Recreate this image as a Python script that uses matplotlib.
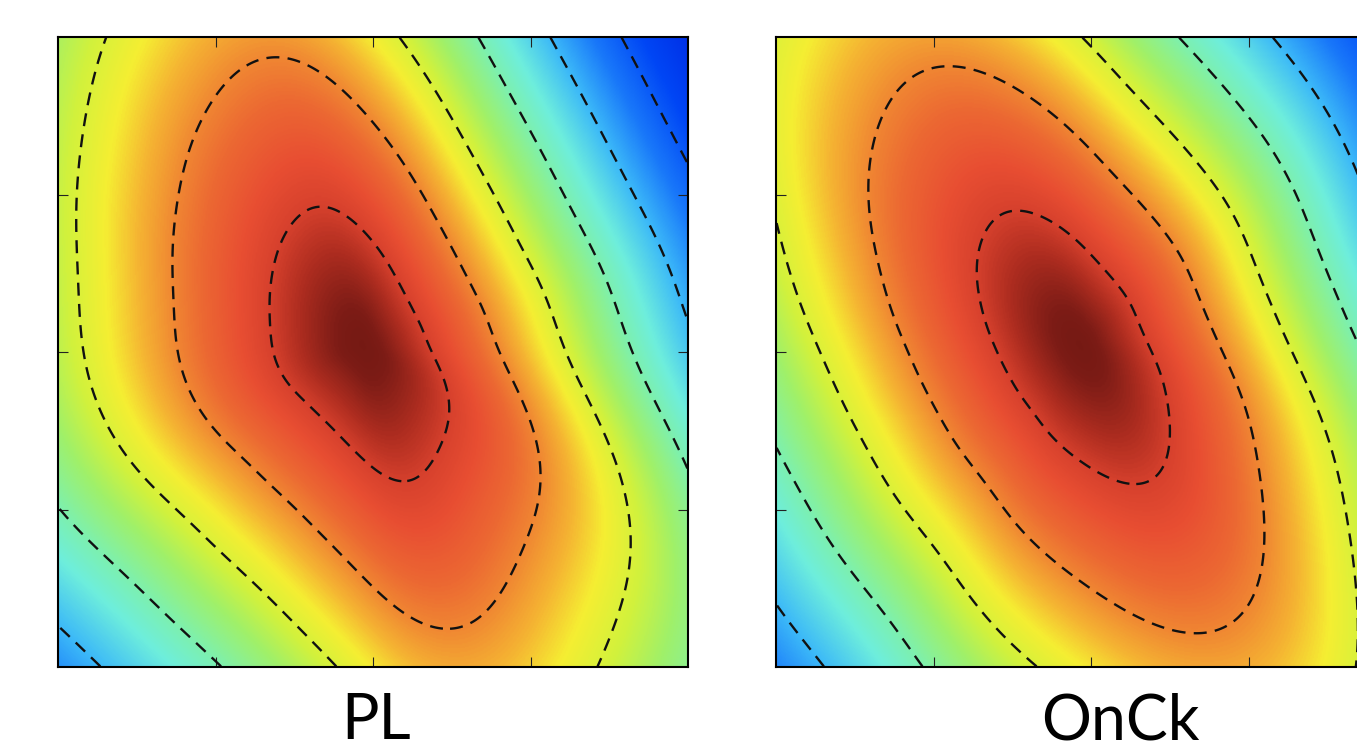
import numpy as np
import matplotlib
matplotlib.use("Agg")
import matplotlib.pyplot as plt
from matplotlib.colors import LinearSegmentedColormap

# ---------------- data ----------------
panel_labels = ["PL", "OnCk"]

# peak position of each field (axes fraction, x right / y up)
pl_center = (0.484, 0.511)
onck_center = (0.4825, 0.511)

# distance (panel pixels) between successive contour levels, per direction (deg, CCW from +x)
pl_angles = [0, 30, 45, 61, 75, 93.6, 105.6, 116, 126, 141.6, 166, 180, 197, 225, 249, 270, 287, 306, 321, 332, 340, 350]
pl_spacing = [65, 61, 64, 72, 87, 122, 166, 152, 140, 117, 96, 94, 90, 81, 87, 110, 166, 130, 118, 98, 84, 71]

onck_angles = [0, 10, 22, 36, 55, 65, 82.8, 102.7, 118.3, 138.7, 157, 180, 193.6, 206, 237, 263, 275, 295.4, 303.3, 311, 324, 335, 345.4]
onck_spacing = [68, 65, 63, 66, 71, 75, 88, 128, 172, 142, 108, 86, 81, 78, 82, 108, 124, 170, 166, 140, 108, 94, 80]

contour_levels = [1, 2, 3, 4, 5, 6, 7]

# colour scale: level value -> colour
cmap_levels = [0.0, 0.35, 0.7, 1.0, 1.3, 1.7, 2.0, 2.35, 2.7, 3.1, 3.5, 4.0, 4.4, 5.0, 5.6, 6.3, 7.2]
cmap_colors = ["#69160f", "#7d1c16", "#af2d20", "#d7412d", "#e84e32", "#ec6932", "#f08732",
               "#f5b432", "#f5ee32", "#d2f23c", "#a0f069", "#7df0af", "#6eeedc", "#3cb9f8",
               "#1978fa", "#0046f5", "#0028e1"]

tick_positions = [0.25, 0.5, 0.75]

# ---------------- figure ----------------
W, H = 1357, 749
fig = plt.figure(figsize=(W / 100, H / 100), dpi=100)

vmax = cmap_levels[-1]
cmap = LinearSegmentedColormap.from_list(
    "field", [(lv / vmax, c) for lv, c in zip(cmap_levels, cmap_colors)])

PANEL_PX = 630.0
n = 500
g = (np.arange(n) + 0.5) / n
X, Y = np.meshgrid(g, g)


def smooth_periodic(angles, spacing, sigma):
    a = np.array(angles, float)
    s = np.array(spacing, float)
    fine = np.arange(0, 360, 0.5)
    ext_a = np.concatenate([a - 360, a, a + 360])
    ext_s = np.concatenate([s, s, s])
    lin = np.interp(fine, ext_a, ext_s)
    half = int(4 * sigma / 0.5)
    shifts = np.arange(-half, half + 1)
    w = np.exp(-0.5 * (shifts * 0.5 / sigma) ** 2)
    w /= w.sum()
    sm = np.zeros_like(lin)
    for sh, wi in zip(shifts, w):
        sm += wi * np.roll(lin, sh)
    return fine, sm


def lookup(fine, sm, th):
    return np.interp(th, np.concatenate([fine, [360]]), np.concatenate([sm, [sm[0]]]))


def field(center, angles, spacing):
    fine, sm_outer = smooth_periodic(angles, spacing, 8.0)
    _, sm_inner = smooth_periodic(angles, spacing, 12.0)
    dx = (X - center[0]) * PANEL_PX
    dy = (Y - center[1]) * PANEL_PX
    r = np.hypot(dx, dy)
    th = np.degrees(np.arctan2(dy, dx)) % 360
    w = np.exp(-(r / 140.0) ** 2)
    rho = w * lookup(fine, sm_inner, th) + (1 - w) * lookup(fine, sm_outer, th)
    return np.sqrt((r / rho) ** 2 + 0.25 ** 2)


panels = [
    (58, pl_center, pl_angles, pl_spacing, panel_labels[0], 376),
    (776, onck_center, onck_angles, onck_spacing, panel_labels[1], 1120),
]

for left_px, center, ang, spc, label, label_x in panels:
    ax = fig.add_axes([left_px / W, (H - 667) / H, PANEL_PX / W, PANEL_PX / H])
    Z = field(center, ang, spc)
    ax.imshow(Z, origin="lower", extent=(0, 1, 0, 1), cmap=cmap, vmin=0, vmax=vmax,
              interpolation="bilinear", aspect="auto")
    cs = ax.contour(X, Y, Z, levels=contour_levels, colors="#111111", linewidths=1.7)
    cs.set_linestyle((0, (5.5, 3.5)))
    ax.set_xlim(0, 1)
    ax.set_ylim(0, 1)
    ax.set_xticks(tick_positions)
    ax.set_yticks(tick_positions)
    ax.set_xticklabels([])
    ax.set_yticklabels([])
    ax.tick_params(direction="in", top=True, right=True, length=7, width=0.8, color="#222222")
    for sp in ax.spines.values():
        sp.set_linewidth(1.5)
    fig.text(label_x / W, (H - 739) / H, label, ha="center", va="baseline",
             fontsize=45, family=["Lato", "DejaVu Sans"], color="black")

fig.savefig("out.png", dpi=100)
